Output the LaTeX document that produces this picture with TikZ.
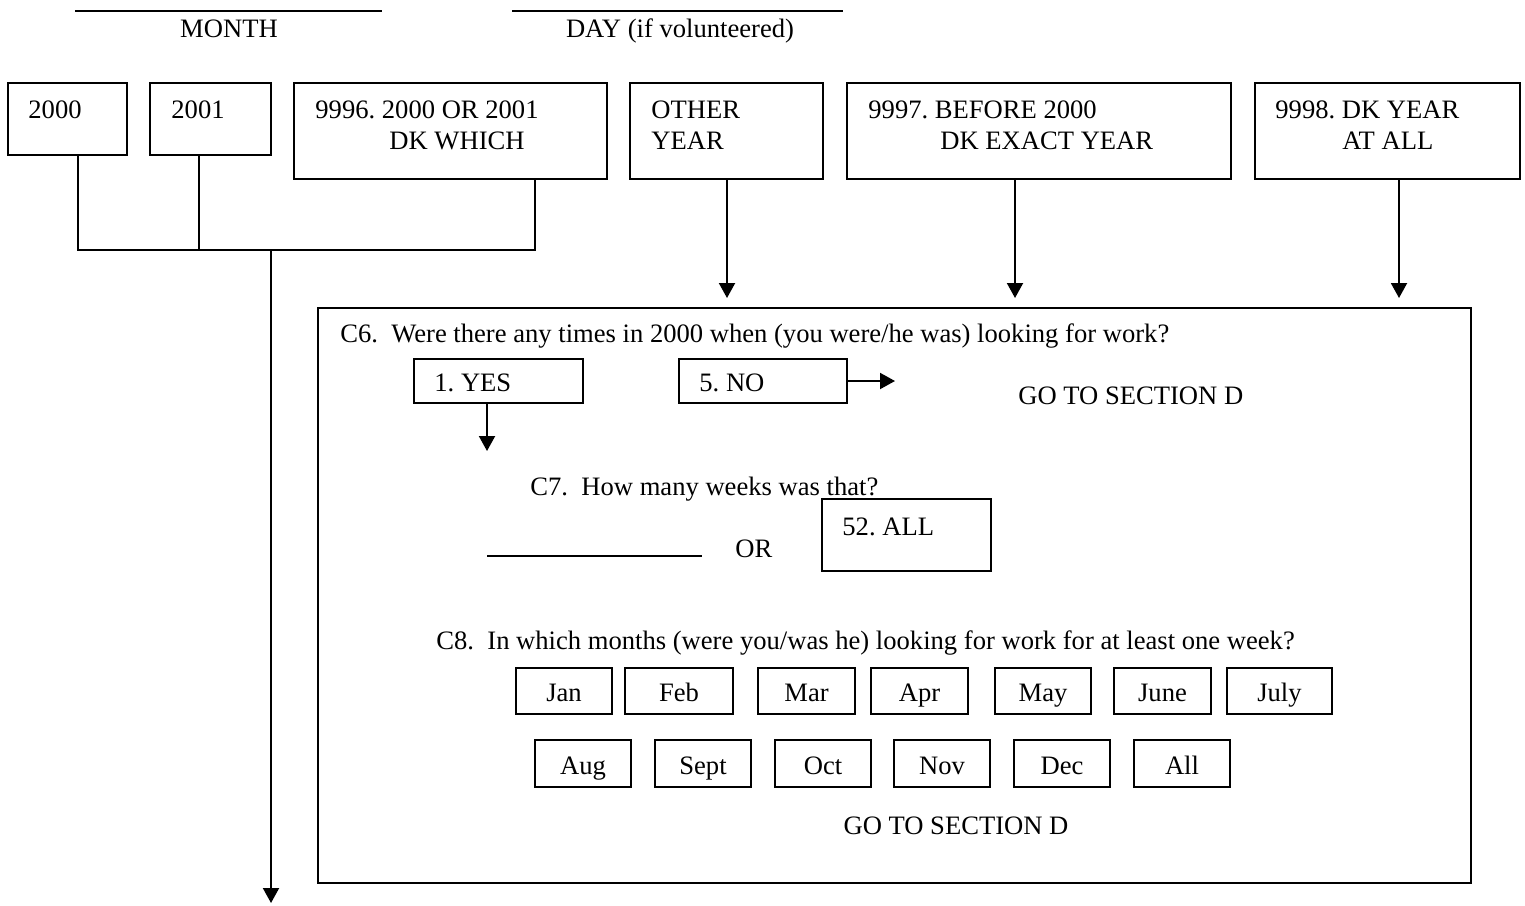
\documentclass[tikz,border=0pt]{standalone}
\usepackage{fontspec}
\setmainfont{Liberation Serif}
\usetikzlibrary{arrows.meta,fit,calc}
\frenchspacing
\begin{document}
\begin{tikzpicture}[x=0.5pt,y=-0.5pt,
  box/.style={draw, line width=1pt, inner sep=0pt, outer sep=0pt},
  txt/.style={anchor=base west, inner sep=0pt, font=\fontsize{13.3}{15}\selectfont},
  ctxt/.style={anchor=base, inner sep=0pt, font=\fontsize{13.3}{15}\selectfont},
  conn/.style={line width=1pt},
  arr/.style={line width=1pt, -{Triangle[width=8pt,length=7.5pt]}},
  rule/.style={line width=0.8pt}]
\useasboundingbox (0,0) rectangle (1525,905);

% top blanks
\coordinate (m1) at (75,11); \coordinate (m2) at (382,11);
\coordinate (d1) at (512,11); \coordinate (d2) at (843,11);
\draw[rule] (m1) -- (m2);
\draw[rule] (d1) -- (d2);
\node[ctxt] (month) at (229,37) {MONTH};
\node[ctxt] (day) at (680,37) {DAY (if volunteered)};

% year boxes
\node[box, fit={(8,83) (127,155)}] (b2000) {};
\node[box, fit={(150,83) (271,155)}] (b2001) {};
\node[box, fit={(294,83) (607,179)}] (b9996) {};
\node[box, fit={(630,83) (823,179)}] (bother) {};
\node[box, fit={(847,83) (1231,179)}] (b9997) {};
\node[box, fit={(1255,83) (1520,179)}] (b9998) {};

\node[txt] (t2000) at (28,118) {2000};
\node[txt] (t2001) at (171,118) {2001};
\node[txt] (t9996a) at (315,118) {9996. 2000 OR 2001};
\node[txt] (t9996b) at (389,149) {DK WHICH};
\node[txt] (tothera) at (651,118) {OTHER};
\node[txt] (totherb) at (651,149) {YEAR};
\node[txt] (t9997a) at (868,118) {9997. BEFORE 2000};
\node[txt] (t9997b) at (940,149) {DK EXACT YEAR};
\node[txt] (t9998a) at (1275,118) {9998. DK YEAR};
\node[txt] (t9998b) at (1342,149) {AT ALL};

% join and long arrow
\coordinate (c2000) at (78,0);
\coordinate (c2001) at (199,0);
\coordinate (c9996) at (535,0);
\coordinate (join) at (271,250);
\coordinate (down) at (271,903);
\draw[conn] (c2000 |- b2000.south) |- (c9996 |- join) -- (c9996 |- b9996.south);
\draw[conn] (c2001 |- b2001.south) -- (c2001 |- join);
\draw[arr] (join) -- (down);

% big box
\node[box, fit={(318,308) (1471,883)}] (big) {};
\coordinate (co) at (727,0);
\coordinate (c7) at (1015,0);
\coordinate (c8) at (1399,0);
\draw[arr, shorten >=5pt] (co |- bother.south) -- (co |- big.north);
\draw[arr, shorten >=5pt] (c7 |- b9997.south) -- (c7 |- big.north);
\draw[arr, shorten >=5pt] (c8 |- b9998.south) -- (c8 |- big.north);

% C6
\node[txt] (q6) at (340,342) {C6.\ \ Were there any times in 2000 when (you were/he was) looking for work?};
\node[box, fit={(414,359) (583,403)}] (yes) {};
\node[box, fit={(679,359) (847,403)}] (no) {};
\node[txt] (tyes) at (434,391) {1. YES};
\node[txt] (tno) at (699,391) {5. NO};
\coordinate (yesend) at (487,451);
\draw[arr] (yesend |- yes.south) -- (yesend);
\coordinate (noend) at (895,381);
\draw[arr] (no.east) -- (noend);
\node[txt] (go1) at (1018,404) {GO TO SECTION D};

% C7
\node[txt] (q7) at (530,495) {C7.\ \ How many weeks was that?};
\coordinate (w1) at (487,556); \coordinate (w2) at (702,556);
\draw[rule] (w1) -- (w2);
\node[txt] (or) at (735,557) {OR};
\node[box, fit={(822,499) (991,571)}] (all52) {};
\node[txt] (tall52) at (842,535) {52. ALL};

% C8
\node[txt] (q8) at (436,649) {C8.\ \ In which months (were you/was he) looking for work for at least one week?};

\newcommand\monthbox[6]{%
  \node[box, fit={(#2,#3) (#4,#5)}] (#1) {};
  \node[ctxt] (#1t) at ({(#2+#4)/2},{#5-13}) {#6};}
\monthbox{jan}{516}{668}{612}{714}{Jan}
\monthbox{feb}{625}{668}{733}{714}{Feb}
\monthbox{mar}{758}{668}{855}{714}{Mar}
\monthbox{apr}{871}{668}{968}{714}{Apr}
\monthbox{may}{995}{668}{1091}{714}{May}
\monthbox{jun}{1114}{668}{1211}{714}{June}
\monthbox{jul}{1227}{668}{1332}{714}{July}
\monthbox{aug}{535}{740}{631}{787}{Aug}
\monthbox{sep}{655}{740}{751}{787}{Sept}
\monthbox{oct}{775}{740}{871}{787}{Oct}
\monthbox{nov}{894}{740}{990}{787}{Nov}
\monthbox{dec}{1014}{740}{1110}{787}{Dec}
\monthbox{allm}{1134}{740}{1230}{787}{All}

\node[ctxt] (go2) at (956,834) {GO TO SECTION D};
\end{tikzpicture}
\end{document}
